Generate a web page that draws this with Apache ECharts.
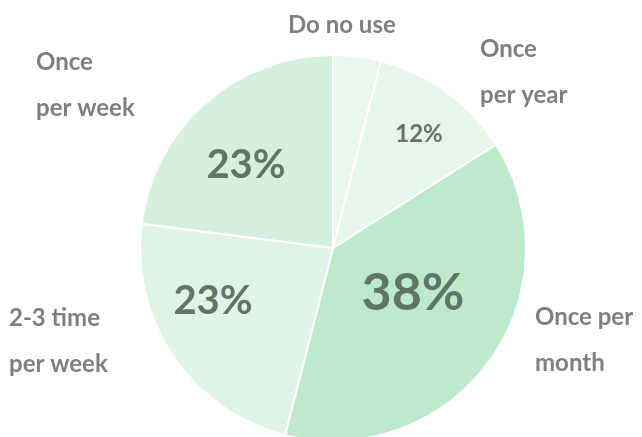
<!DOCTYPE html>
<html>
<head>
<meta charset="utf-8">
<script src="https://cdn.jsdelivr.net/npm/echarts@6/dist/echarts.min.js"></script>
<style>
html,body{margin:0;padding:0;background:#fff;}
#main{width:642px;height:437px;}
</style>
</head>
<body>
<div id="main"></div>
<script>
const categories = ['Do no use', 'Once\nper year', 'Once per\nmonth', '2-3 time\nper week', 'Once\nper week'];
const values = [4, 12, 38, 23, 23];
const showPercent = [false, true, true, true, true];

const sliceColors = ['#e9f7ee', '#e7f6ec', '#bde9cc', '#dff3e6', '#d6f0df'];
const percentSizes = [20, 24, 52, 40, 40];
const percentPos = [[0, 0], [419, 134], [413, 293], [213, 301], [246, 165]];
const namePos = [[288, 25], [480, 49], [535, 317], [9, 318], [36, 62]];

const chart = echarts.init(document.getElementById('main'));

const pieData = categories.map((c, i) => ({
  name: c,
  value: values[i],
  itemStyle: { color: sliceColors[i] },
  label: { show: showPercent[i], fontSize: percentSizes[i] }
}));
const nameData = categories.map((c, i) => ({ name: c, value: values[i] }));

chart.setOption({
  animation: false,
  series: [
    {
      type: 'pie',
      center: [333, 248],
      radius: 193,
      startAngle: 90,
      clockwise: true,
      silent: true,
      itemStyle: { borderColor: '#ffffff', borderWidth: 2 },
      label: {
        position: 'inside',
        formatter: p => p.value + '%',
        color: '#5f7566',
        fontFamily: 'Lato',
        fontWeight: 'bold'
      },
      labelLayout: p => ({
        x: percentPos[p.dataIndex][0],
        y: percentPos[p.dataIndex][1],
        align: 'center',
        verticalAlign: 'middle'
      }),
      data: pieData
    },
    {
      type: 'pie',
      center: [333, 248],
      radius: 193,
      startAngle: 90,
      silent: true,
      avoidLabelOverlap: false,
      itemStyle: { color: 'rgba(0,0,0,0)' },
      label: {
        show: true,
        position: 'outside',
        formatter: p => p.name,
        color: '#7f7f7f',
        fontFamily: 'Lato',
        fontWeight: 'bold',
        fontSize: 24,
        lineHeight: 46,
        overflow: 'none',
        width: 200
      },
      labelLine: { show: false },
      labelLayout: p => ({
        x: namePos[p.dataIndex][0],
        y: namePos[p.dataIndex][1] - 23,
        align: 'left',
        verticalAlign: 'top'
      }),
      data: nameData
    }
  ]
});
</script>
</body>
</html>
